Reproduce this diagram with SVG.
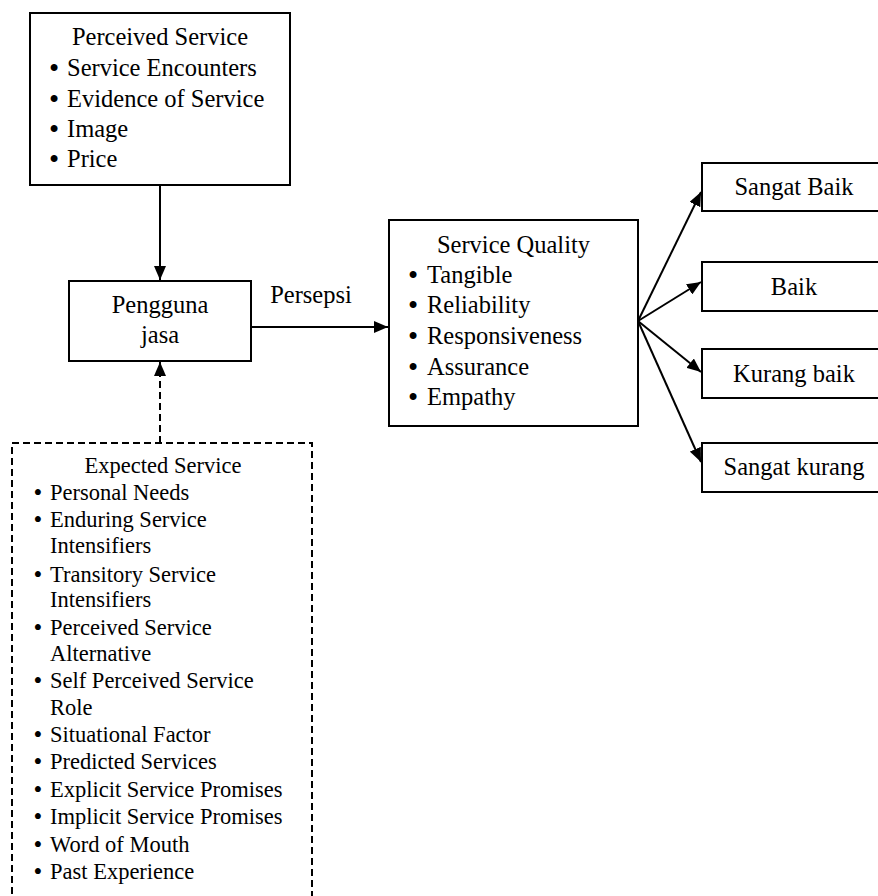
<svg xmlns="http://www.w3.org/2000/svg" width="878" height="896" viewBox="0 0 878 896">
<style>
text{font-family:'Liberation Serif','Times New Roman',serif;fill:#000}
.box{fill:#fff;stroke:#000;stroke-width:2}
.dbox{fill:#fff;stroke:#000;stroke-width:2;stroke-dasharray:7 4}
.t{font-size:24.5px}
.s{font-size:22.5px}
.b{font-size:29px;text-anchor:middle}
.bs{font-size:25px;text-anchor:middle}
.c{text-anchor:middle}
.ln{stroke:#000;stroke-width:2;fill:none}
.dl{stroke:#000;stroke-width:2;fill:none;stroke-dasharray:7 4}
</style>
<defs>
<marker id="ah" markerWidth="14" markerHeight="12" refX="14" refY="6" orient="auto" markerUnits="userSpaceOnUse">
<path d="M0,0 L14,6 L0,12 Z" fill="#000"/>
</marker>
</defs>
<rect width="878" height="896" fill="#fff"/>
<g font-family="Liberation Serif, Times New Roman, serif">
<g id="connectors">
<line class="ln" x1="160" y1="185" x2="160" y2="280" marker-end="url(#ah)"/>
<line class="dl" x1="160" y1="443" x2="160" y2="362" marker-end="url(#ah)"/>
<line class="ln" x1="252" y1="327" x2="388" y2="327" marker-end="url(#ah)"/>
<line class="ln" x1="638" y1="321" x2="701" y2="192" marker-end="url(#ah)"/>
<line class="ln" x1="638" y1="321" x2="701" y2="282" marker-end="url(#ah)"/>
<line class="ln" x1="638" y1="321" x2="701" y2="372" marker-end="url(#ah)"/>
<line class="ln" x1="638" y1="321" x2="701" y2="462" marker-end="url(#ah)"/>
<text class="t c" x="311" y="303">Persepsi</text>
</g>
<g id="perceived">
<rect class="box" x="30" y="13" width="260" height="172"/>
<text class="t c" x="160" y="45">Perceived Service</text>
<text class="b" x="54" y="78">•</text><text class="t" x="67" y="76">Service Encounters</text>
<text class="b" x="54" y="109">•</text><text class="t" x="67" y="107">Evidence of Service</text>
<text class="b" x="54" y="139">•</text><text class="t" x="67" y="137">Image</text>
<text class="b" x="54" y="169">•</text><text class="t" x="67" y="167">Price</text>
</g>
<g id="pengguna">
<rect class="box" x="69" y="281" width="182" height="80"/>
<text class="t c" x="160" y="313">Pengguna</text>
<text class="t c" x="160" y="343">jasa</text>
</g>
<g id="quality">
<rect class="box" x="389" y="220" width="249" height="206"/>
<text class="t c" x="513.5" y="253">Service Quality</text>
<text class="b" x="413" y="285">•</text><text class="t" x="427" y="283">Tangible</text>
<text class="b" x="413" y="315">•</text><text class="t" x="427" y="313">Reliability</text>
<text class="b" x="413" y="346">•</text><text class="t" x="427" y="344">Responsiveness</text>
<text class="b" x="413" y="377">•</text><text class="t" x="427" y="375">Assurance</text>
<text class="b" x="413" y="407">•</text><text class="t" x="427" y="405">Empathy</text>
</g>
<g id="sangat-baik">
<rect class="box" x="702" y="163" width="186" height="48"/>
<text class="t c" x="794" y="195">Sangat Baik</text>
</g>
<g id="baik">
<rect class="box" x="702" y="262" width="186" height="49"/>
<text class="t c" x="794" y="295">Baik</text>
</g>
<g id="kurang-baik">
<rect class="box" x="702" y="349" width="186" height="49"/>
<text class="t c" x="794" y="382">Kurang baik</text>
</g>
<g id="sangat-kurang">
<rect class="box" x="702" y="443" width="186" height="49"/>
<text class="t c" x="794" y="475">Sangat kurang</text>
</g>
<g id="expected">
<rect class="dbox" x="12" y="443" width="300" height="470"/>
<text class="s c" x="163" y="473">Expected Service</text>
<text class="bs" x="38" y="501">•</text><text class="s" x="50" y="500">Personal Needs</text>
<text class="bs" x="38" y="528">•</text><text class="s" x="50" y="527">Enduring Service</text>
<text class="s" x="50" y="553">Intensifiers</text>
<text class="bs" x="38" y="583">•</text><text class="s" x="50" y="582">Transitory Service</text>
<text class="s" x="50" y="607">Intensifiers</text>
<text class="bs" x="38" y="636">•</text><text class="s" x="50" y="635">Perceived Service</text>
<text class="s" x="50" y="661">Alternative</text>
<text class="bs" x="38" y="689">•</text><text class="s" x="50" y="688">Self Perceived Service</text>
<text class="s" x="50" y="715">Role</text>
<text class="bs" x="38" y="743">•</text><text class="s" x="50" y="742">Situational Factor</text>
<text class="bs" x="38" y="770">•</text><text class="s" x="50" y="769">Predicted Services</text>
<text class="bs" x="38" y="798">•</text><text class="s" x="50" y="797">Explicit Service Promises</text>
<text class="bs" x="38" y="825">•</text><text class="s" x="50" y="824">Implicit Service Promises</text>
<text class="bs" x="38" y="853">•</text><text class="s" x="50" y="852">Word of Mouth</text>
<text class="bs" x="38" y="880">•</text><text class="s" x="50" y="879">Past Experience</text>
</g>
</g>
</svg>
